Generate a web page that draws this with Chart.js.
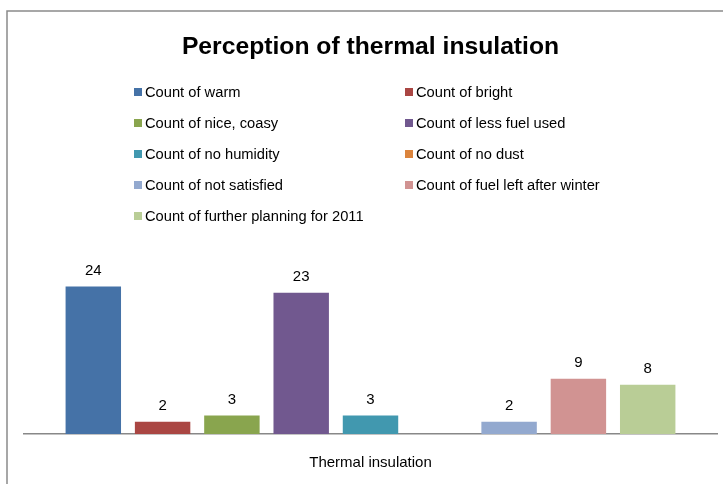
<!DOCTYPE html>
<html>
<head>
<meta charset="utf-8">
<script src="https://cdn.jsdelivr.net/npm/chart.js@4"></script>
<style>
  body { margin: 0; background: #fff; }
  #wrap { width: 723px; height: 484px; }
</style>
</head>
<body>
<div id="wrap"><canvas id="myChart" width="723" height="484"></canvas></div>
<script>
"use strict";

const categories = ['Thermal insulation'];
const seriesNames = [
    'Count of warm', 'Count of bright', 'Count of nice, coasy',
    'Count of less fuel used', 'Count of no humidity', 'Count of no dust',
    'Count of not satisfied', 'Count of fuel left after winter',
    'Count of further planning for 2011'
];
const seriesValues = [24, 2, 3, 23, 3, 0, 2, 9, 8];
const seriesColors = ['#4572A7', '#AA4643', '#89A54E', '#71588F', '#4198AF',
    '#DB843D', '#93A9CF', '#D19392', '#B9CD96'];

const FONT = "'Liberation Sans Narrow', 'Liberation Sans', sans-serif";

// grey frame of the chart object
const framePlugin = {
    id: 'frame',
    beforeDraw(chart) {
        const c = chart.ctx;
        c.save();
        c.strokeStyle = '#8a8a8a';
        c.lineWidth = 1.5;
        c.beginPath();
        c.moveTo(7, chart.height);
        c.lineTo(7, 11);
        c.lineTo(chart.width, 11);
        c.stroke();
        c.restore();
    }
};

// two column legend like the excel one
const legendPlugin = {
    id: 'twoColLegend',
    afterDraw(chart) {
        const c = chart.ctx;
        c.save();
        c.font = '14.7px ' + FONT;
        c.textBaseline = 'middle';
        chart.data.datasets.forEach((ds, i) => {
            const x = i % 2 === 0 ? 134 : 405;
            const y = 92 + Math.floor(i / 2) * 31;
            c.fillStyle = ds.backgroundColor;
            c.fillRect(x, y - 4, 8, 8);
            c.fillStyle = '#000';
            c.fillText(ds.label, x + 11, y + 1);
        });
        c.restore();
    }
};

// value labels above bars
const valuePlugin = {
    id: 'values',
    afterDatasetsDraw(chart) {
        const c = chart.ctx;
        c.save();
        c.font = '15px ' + FONT;
        c.fillStyle = '#000';
        c.textAlign = 'center';
        c.textBaseline = 'middle';
        chart.data.datasets.forEach((ds, i) => {
            chart.getDatasetMeta(i).data.forEach((bar, j) => {
                if (!ds.data[j]) return;
                c.fillText(ds.data[j], bar.x, bar.y - 16);
            });
        });
        c.restore();
    }
};

const ctx = document.getElementById('myChart');

new Chart(ctx, {
    type: 'bar',
    data: {
        labels: categories,
        datasets: seriesNames.map((name, i) => ({
            label: name,
            data: [seriesValues[i]],
            backgroundColor: seriesColors[i],
            borderWidth: 0,
            categoryPercentage: 0.9,
            barPercentage: 0.8
        }))
    },
    options: {
        responsive: false,
        animation: false,
        layout: {
            padding: { left: 24, right: 6, top: 0, bottom: 0 }
        },
        plugins: {
            legend: { display: false },
            tooltip: { enabled: false },
            title: {
                display: true,
                text: 'Perception of thermal insulation',
                color: '#000',
                font: { family: FONT, size: 24.7, weight: 'bold', lineHeight: 1.2 },
                padding: { top: 32, bottom: 188 },
                position: 'top'
            }
        },
        scales: {
            x: {
                grid: { display: false, drawTicks: false },
                border: { display: true, color: '#888', width: 1.5 },
                ticks: {
                    color: '#000',
                    padding: 20,
                    font: { family: FONT, size: 15 }
                },
                afterFit(scale) {
                    scale.height = 50;
                }
            },
            y: {
                display: false,
                min: 0,
                max: 30
            }
        }
    },
    plugins: [framePlugin, legendPlugin, valuePlugin]
});
</script>
</body>
</html>
